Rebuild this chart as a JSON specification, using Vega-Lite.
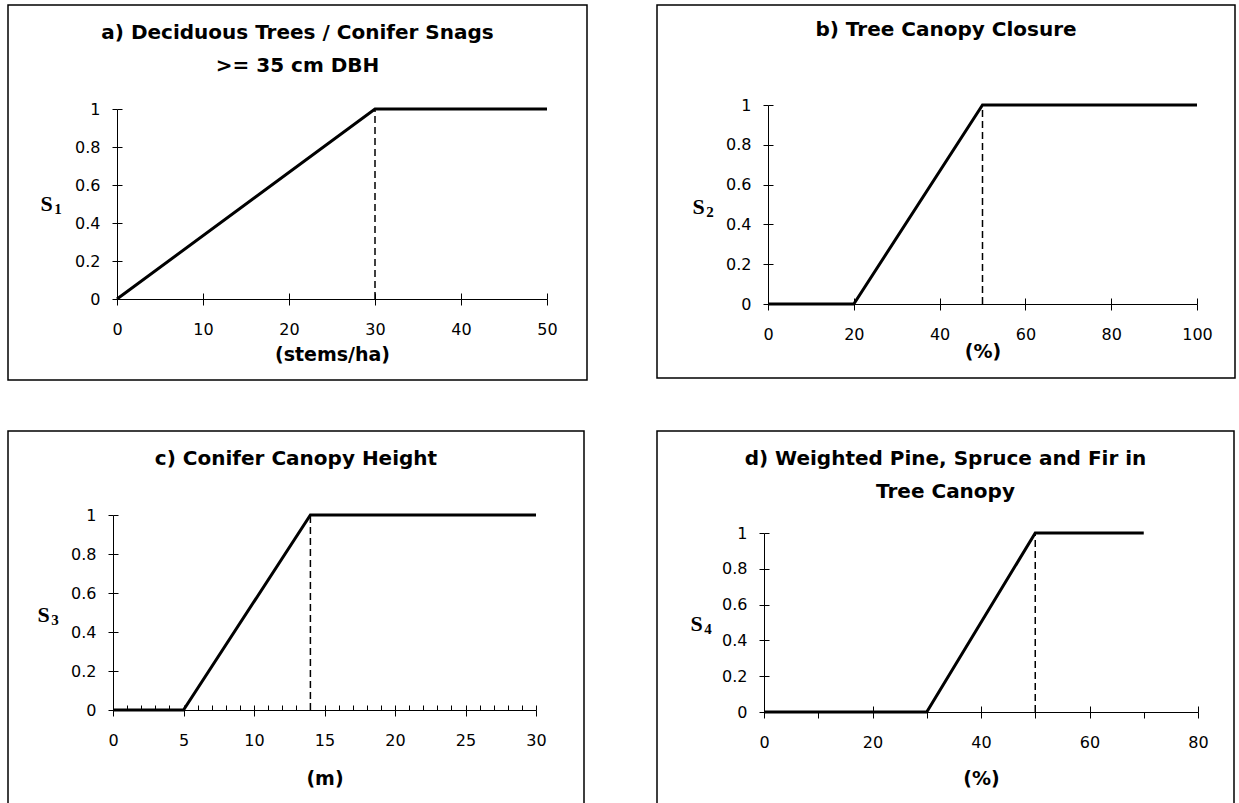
{
  "$schema": "https://vega.github.io/schema/vega-lite/v6.json",
  "background": "white",
  "padding": {"left": 7, "top": 4, "right": 0, "bottom": 0},
  "columns": 2,
  "spacing": {"row": 51, "column": 70},
  "bounds": "flush",
  "concat": [
    {
      "width": 579, "height": 375,
      "title": {"text": ["a) Deciduous Trees / Conifer Snags", ">= 35 cm DBH"], "offset": -71},
      "layer": [
        {
          "data": {"values": [{"x": 0, "y": 0}, {"x": 30, "y": 1}, {"x": 50, "y": 1}]},
          "mark": {"type": "line", "color": "black", "strokeWidth": 3},
          "encoding": {
            "x": {"field": "x", "type": "quantitative", "scale": {"domain": [0, 50], "range": [109, 539], "nice": false, "zero": false},
              "axis": {"orient": "bottom", "offset": -81, "values": [0, 10, 20, 30, 40, 50], "tickSize": 6, "labelPadding": 16, "title": "(stems/ha)", "titleY": 55}},
            "y": {"field": "y", "type": "quantitative", "scale": {"domain": [0, 1], "range": [294, 104], "nice": false, "zero": false},
              "axis": {"orient": "left", "offset": -109, "values": [0, 0.2, 0.4, 0.6, 0.8, 1], "format": "~g", "tickSize": 5, "labelPadding": 12, "title": "S", "titleX": -71, "titleY": 198.5}}
          }
        },
        {
          "data": {"values": [{"x": 30, "y0": 0, "y1": 1}]},
          "mark": {"type": "rule", "color": "black", "strokeWidth": 1.5, "strokeDash": [7, 4]},
          "encoding": {
            "x": {"field": "x", "type": "quantitative", "scale": {"domain": [0, 50], "range": [109, 539], "nice": false, "zero": false},
              "axis": {"orient": "top", "offset": -294, "values": [0, 10, 20, 30, 40, 50], "tickSize": 6, "labels": false, "domain": false, "title": null}},
            "y": {"field": "y0", "type": "quantitative", "scale": {"domain": [0, 1], "range": [294, 104], "nice": false, "zero": false},
              "axis": {"orient": "right", "offset": -470, "values": [0, 0.2, 0.4, 0.6, 0.8, 1], "tickSize": 5, "labels": false, "domain": false, "title": "1", "titleFontSize": 15, "titleX": -59.5, "titleY": 203}},
            "y2": {"field": "y1"}
          }
        }
      ],
      "resolve": {"axis": {"x": "independent", "y": "independent"}}
    },
    {
      "width": 578, "height": 373,
      "title": {"text": "b) Tree Canopy Closure", "offset": -35},
      "layer": [
        {
          "data": {"values": [{"x": 0, "y": 0}, {"x": 20, "y": 0}, {"x": 50, "y": 1}, {"x": 100, "y": 1}]},
          "mark": {"type": "line", "color": "black", "strokeWidth": 3},
          "encoding": {
            "x": {"field": "x", "type": "quantitative", "scale": {"domain": [0, 100], "range": [111, 540], "nice": false, "zero": false},
              "axis": {"orient": "bottom", "offset": -74, "values": [0, 20, 40, 60, 80, 100], "tickSize": 6, "labelPadding": 16, "title": "(%)", "titleY": 47}},
            "y": {"field": "y", "type": "quantitative", "scale": {"domain": [0, 1], "range": [299, 100], "nice": false, "zero": false},
              "axis": {"orient": "left", "offset": -111, "values": [0, 0.2, 0.4, 0.6, 0.8, 1], "format": "~g", "tickSize": 5, "labelPadding": 12, "title": "S", "titleX": -70, "titleY": 201.5}}
          }
        },
        {
          "data": {"values": [{"x": 50, "y0": 0, "y1": 1}]},
          "mark": {"type": "rule", "color": "black", "strokeWidth": 1.5, "strokeDash": [7, 4]},
          "encoding": {
            "x": {"field": "x", "type": "quantitative", "scale": {"domain": [0, 100], "range": [111, 540], "nice": false, "zero": false},
              "axis": {"orient": "top", "offset": -299, "values": [0, 20, 40, 60, 80, 100], "tickSize": 6, "labels": false, "domain": false, "title": null}},
            "y": {"field": "y0", "type": "quantitative", "scale": {"domain": [0, 1], "range": [299, 100], "nice": false, "zero": false},
              "axis": {"orient": "right", "offset": -467, "values": [0, 0.2, 0.4, 0.6, 0.8, 1], "tickSize": 5, "labels": false, "domain": false, "title": "2", "titleFontSize": 15, "titleX": -58.5, "titleY": 206}},
            "y2": {"field": "y1"}
          }
        }
      ],
      "resolve": {"axis": {"x": "independent", "y": "independent"}}
    },
    {
      "width": 576, "height": 400,
      "title": {"text": "c) Conifer Canopy Height", "offset": -38},
      "layer": [
        {
          "data": {"values": [{"x": 0, "y": 0}, {"x": 5, "y": 0}, {"x": 14, "y": 1}, {"x": 30, "y": 1}]},
          "mark": {"type": "line", "color": "black", "strokeWidth": 3},
          "encoding": {
            "x": {"field": "x", "type": "quantitative", "scale": {"domain": [0, 30], "range": [105, 528], "nice": false, "zero": false},
              "axis": {"orient": "bottom", "offset": -121, "values": [0, 5, 10, 15, 20, 25, 30], "tickSize": 6, "labelPadding": 16, "title": "(m)", "titleY": 68}},
            "y": {"field": "y", "type": "quantitative", "scale": {"domain": [0, 1], "range": [279, 84], "nice": false, "zero": false},
              "axis": {"orient": "left", "offset": -105, "values": [0, 0.2, 0.4, 0.6, 0.8, 1], "format": "~g", "tickSize": 5, "labelPadding": 12, "title": "S", "titleX": -70, "titleY": 183.5}}
          }
        },
        {
          "data": {"values": [{"x": 14, "y0": 0, "y1": 1}]},
          "mark": {"type": "rule", "color": "black", "strokeWidth": 1.5, "strokeDash": [7, 4]},
          "encoding": {
            "x": {"field": "x", "type": "quantitative", "scale": {"domain": [0, 30], "range": [105, 528], "nice": false, "zero": false},
              "axis": {"orient": "top", "offset": -279, "values": [0, 1, 2, 3, 4, 5, 6, 7, 8, 9, 10, 11, 12, 13, 14, 15, 16, 17, 18, 19, 20, 21, 22, 23, 24, 25, 26, 27, 28, 29, 30], "tickSize": 5, "labels": false, "domain": false, "title": null}},
            "y": {"field": "y0", "type": "quantitative", "scale": {"domain": [0, 1], "range": [279, 84], "nice": false, "zero": false},
              "axis": {"orient": "right", "offset": -471, "values": [0, 0.2, 0.4, 0.6, 0.8, 1], "tickSize": 5, "labels": false, "domain": false, "title": "3", "titleFontSize": 15, "titleX": -58.5, "titleY": 188}},
            "y2": {"field": "y1"}
          }
        }
      ],
      "resolve": {"axis": {"x": "independent", "y": "independent"}}
    },
    {
      "width": 577, "height": 400,
      "title": {"text": ["d) Weighted Pine, Spruce and Fir in", "Tree Canopy"], "offset": -71},
      "layer": [
        {
          "data": {"values": [{"x": 0, "y": 0}, {"x": 30, "y": 0}, {"x": 50, "y": 1}, {"x": 70, "y": 1}]},
          "mark": {"type": "line", "color": "black", "strokeWidth": 3},
          "encoding": {
            "x": {"field": "x", "type": "quantitative", "scale": {"domain": [0, 80], "range": [107, 541], "nice": false, "zero": false},
              "axis": {"orient": "bottom", "offset": -119, "values": [0, 10, 20, 30, 40, 50, 60, 70, 80], "labelExpr": "datum.value % 20 === 0 ? datum.label : ''", "tickSize": 6, "labelPadding": 16, "title": "(%)", "titleY": 66}},
            "y": {"field": "y", "type": "quantitative", "scale": {"domain": [0, 1], "range": [281, 102], "nice": false, "zero": false},
              "axis": {"orient": "left", "offset": -107, "values": [0, 0.2, 0.4, 0.6, 0.8, 1], "format": "~g", "tickSize": 5, "labelPadding": 12, "title": "S", "titleX": -68, "titleY": 192.5}}
          }
        },
        {
          "data": {"values": [{"x": 50, "y0": 0, "y1": 1}]},
          "mark": {"type": "rule", "color": "black", "strokeWidth": 1.5, "strokeDash": [7, 4]},
          "encoding": {
            "x": {"field": "x", "type": "quantitative", "scale": {"domain": [0, 80], "range": [107, 541], "nice": false, "zero": false},
              "axis": {"orient": "top", "offset": -281, "values": [0, 20, 40, 60, 80], "tickSize": 6, "labels": false, "domain": false, "title": null}},
            "y": {"field": "y0", "type": "quantitative", "scale": {"domain": [0, 1], "range": [281, 102], "nice": false, "zero": false},
              "axis": {"orient": "right", "offset": -470, "values": [0, 0.2, 0.4, 0.6, 0.8, 1], "tickSize": 5, "labels": false, "domain": false, "title": "4", "titleFontSize": 15, "titleX": -56.5, "titleY": 197}},
            "y2": {"field": "y1"}
          }
        }
      ],
      "resolve": {"axis": {"x": "independent", "y": "independent"}}
    }
  ],
  "config": {
    "view": {"stroke": "black", "strokeWidth": 1.5, "fill": "white"},
    "title": {"font": "DejaVu Sans", "fontSize": 20, "fontWeight": "bold", "color": "black", "anchor": "middle", "frame": "group", "baseline": "top", "lineHeight": 33},
    "axis": {"domainColor": "black", "domainWidth": 1, "tickColor": "black", "tickWidth": 1, "labelColor": "black", "labelFont": "DejaVu Sans", "labelFontSize": 16, "titleColor": "black", "titleFont": "DejaVu Sans", "titleFontSize": 19, "titleFontWeight": "bold", "grid": false, "labelFlush": false, "labelOverlap": false},
    "axisX": {"titleBaseline": "middle"},
    "axisY": {"titleAngle": 0, "titleFont": "Liberation Serif", "titleFontSize": 22, "titleAlign": "center", "titleBaseline": "middle"}
  }
}
